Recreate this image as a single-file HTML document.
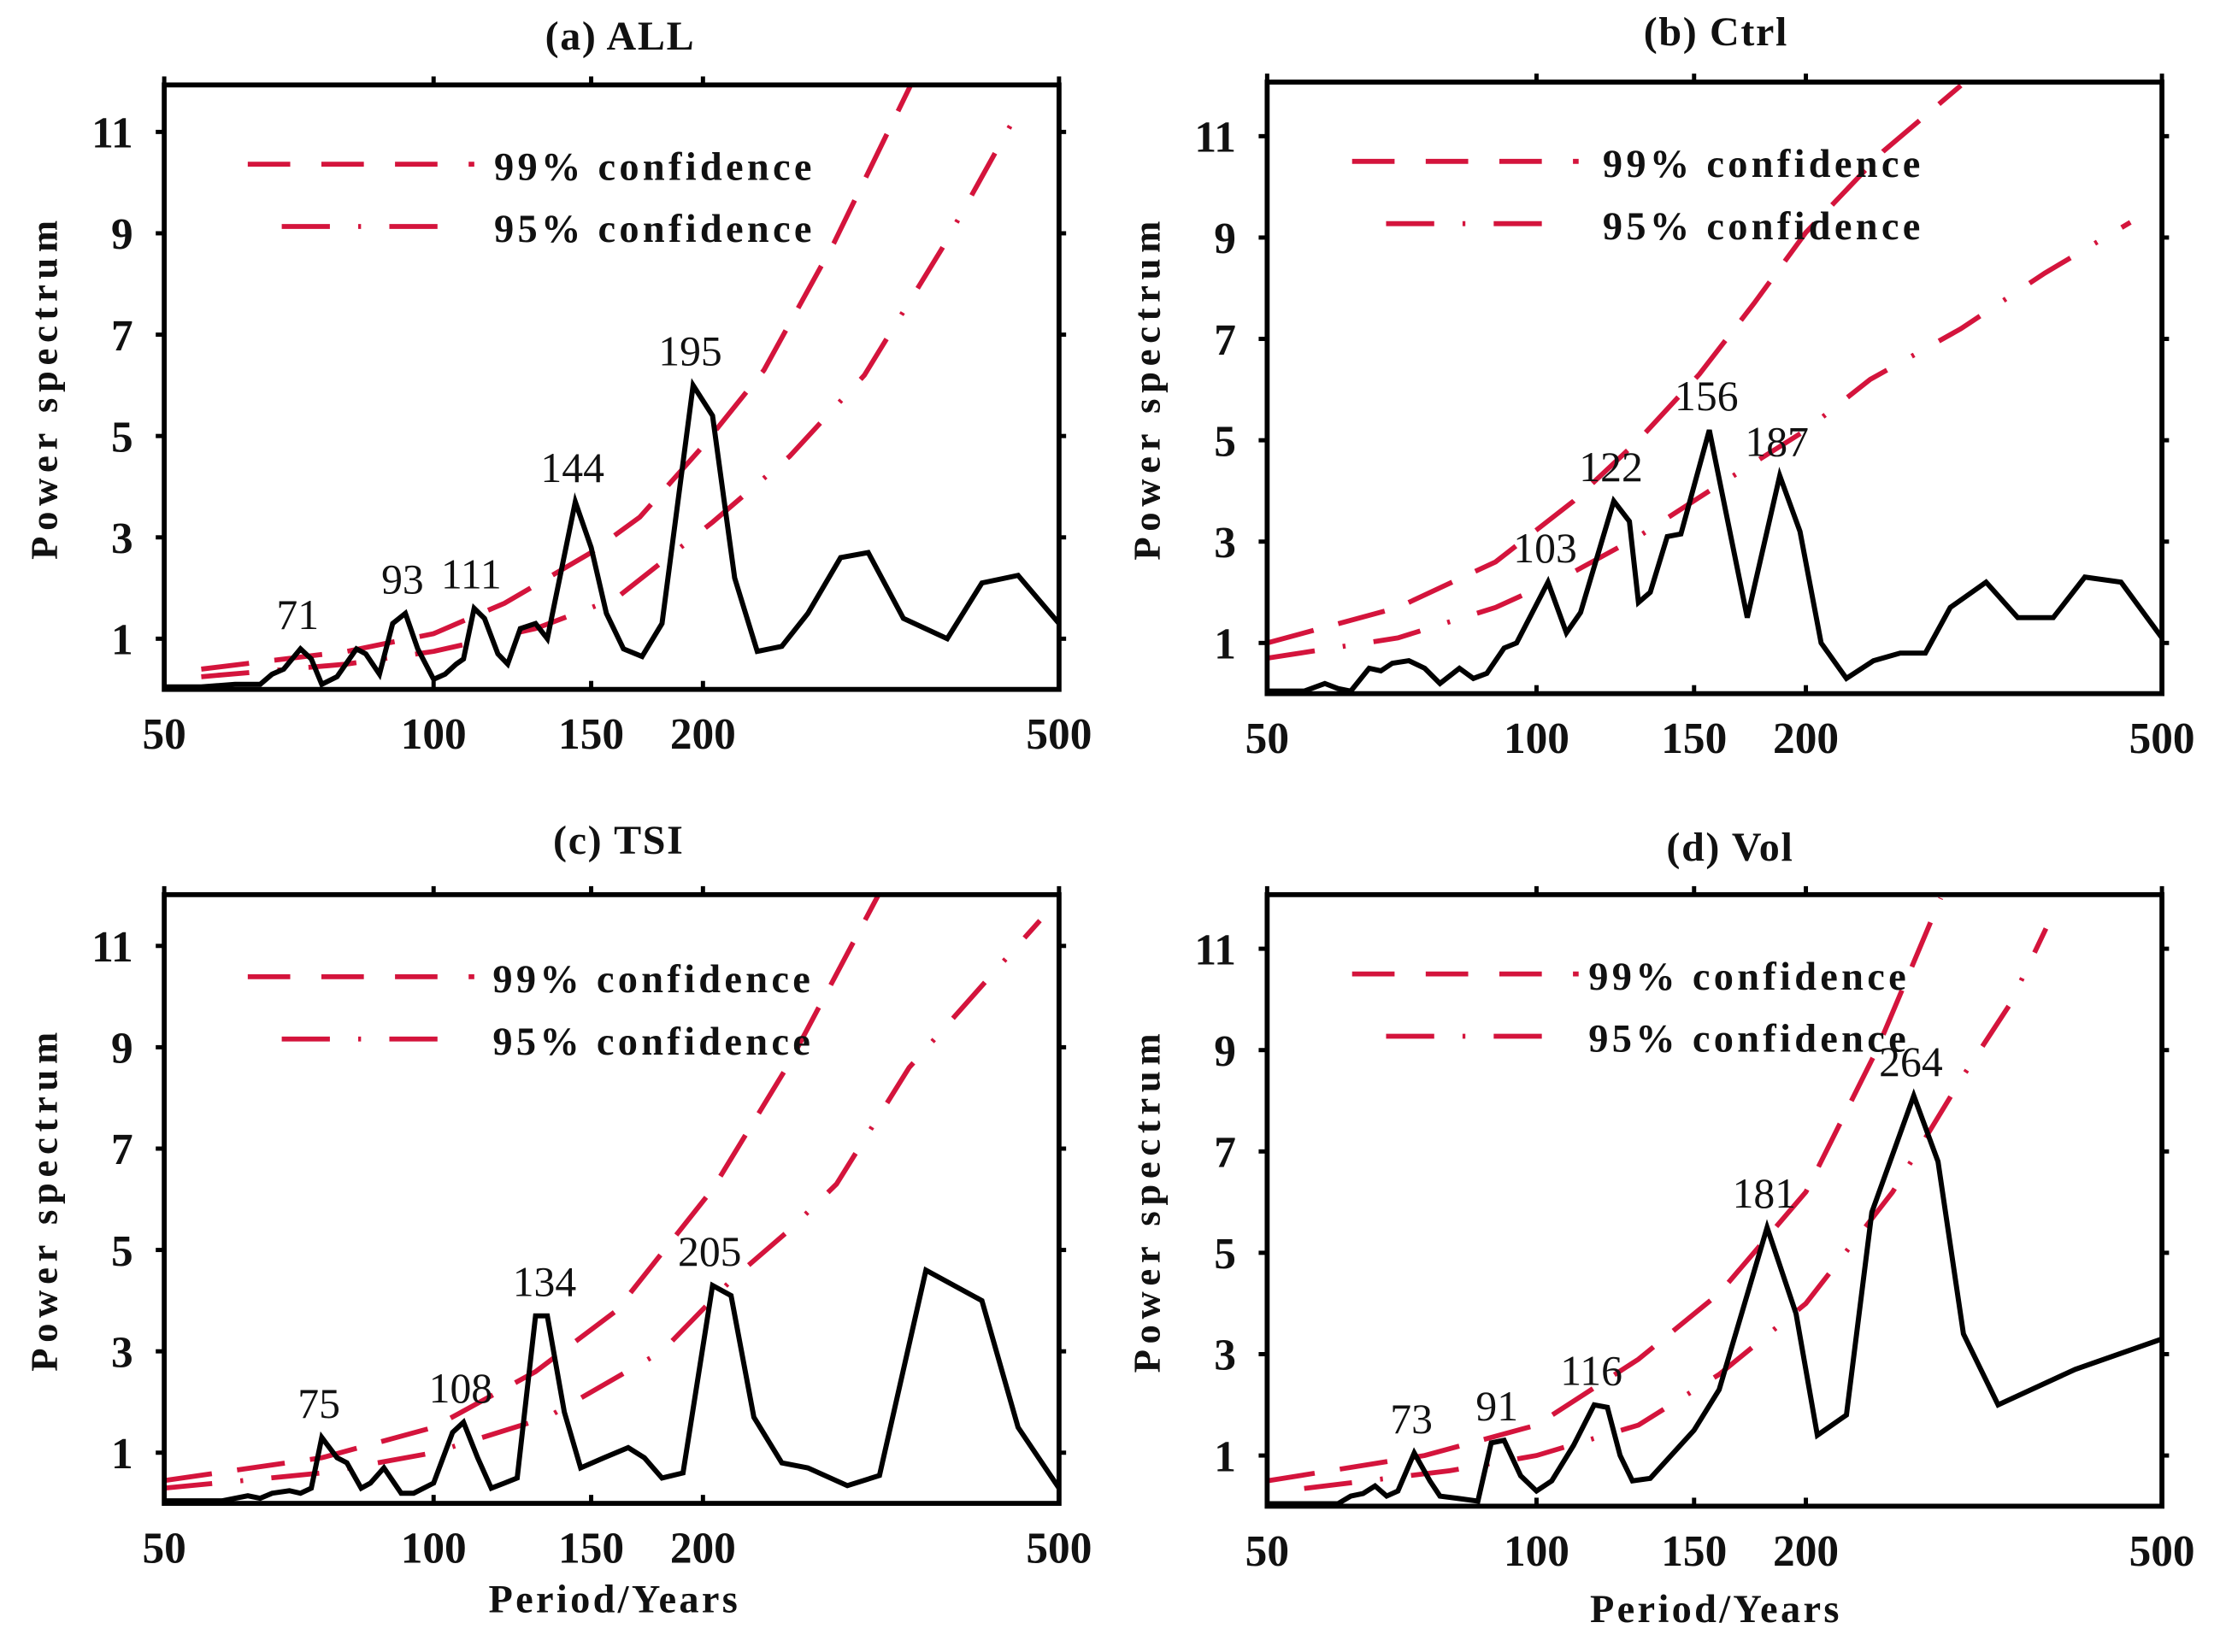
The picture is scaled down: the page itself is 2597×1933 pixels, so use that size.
<!DOCTYPE html>
<html><head><meta charset="utf-8">
<style>
html,body{margin:0;padding:0;background:#fff;}
svg{display:block;}
text{font-family:"Liberation Serif",serif;fill:#111;}
</style></head>
<body>
<svg id="fig" width="2597" height="1933" viewBox="0 0 1568 1167" preserveAspectRatio="none" xmlns="http://www.w3.org/2000/svg"></svg>
<script>
// ---- data: panel (a) ALL ----
const aPeriods=[50,55,60,64,66,68,71,73,75,78,82,84,87,90,93,96,100,103,106,108,111,114,118,121,125,130,134,144,150,156,163,171,180,195,205,217,230,245,262,285,306,335,375,410,450,500];
const aValues=[0.05,0.05,0.1,0.1,0.3,0.4,0.8,0.6,0.1,0.25,0.8,0.7,0.3,1.3,1.5,0.8,0.2,0.3,0.5,0.6,1.6,1.4,0.7,0.5,1.2,1.3,1.0,3.7,2.8,1.5,0.8,0.65,1.3,6.0,5.4,2.2,0.75,0.85,1.5,2.6,2.7,1.4,1.0,2.1,2.25,1.3];
const a99P=[55,80,100,120,150,170,200,234,280,343];
const a99V=[0.4,0.75,1.1,1.7,2.7,3.4,4.8,6.3,8.8,12];
const a95P=[55,80,100,130,160,205,250,303,370,450];
const a95V=[0.25,0.5,0.75,1.2,1.8,3.3,4.6,6.2,8.7,11.4];
const aPeaks=[71,93,111,144,195];
const aPeakV=[0.8,1.5,1.6,3.7,6.0];
// ---- panel (b) Ctrl ----
const bPeriods=[50,55,58,60,62,65,67,69,72,75,78,82,85,88,92,95,103,108,112,122,127,130,134,140,145,156,172,187,197,208,222,238,255,272,290,318,345,378,410,450,500];
const bValues=[0.05,0.05,0.2,0.1,0.05,0.5,0.45,0.6,0.65,0.5,0.2,0.5,0.3,0.4,0.9,1.0,2.2,1.2,1.6,3.8,3.4,1.8,2.0,3.1,3.15,5.2,1.5,4.3,3.2,1.0,0.3,0.65,0.8,0.8,1.7,2.2,1.5,1.5,2.3,2.2,1.1];
const b99P=[50,70,90,110,130,152,175,200,244,298];
const b99V=[1.0,1.7,2.6,3.8,5.0,6.3,7.7,9.1,10.7,12];
const b95P=[50,70,90,110,130,156,200,236,298,370,461];
const b95V=[0.7,1.1,1.7,2.4,3.1,4.0,5.2,6.2,7.2,8.3,9.3];
const bPeaks=[103,122,156,187];
const bPeakV=[2.2,3.8,5.2,4.3];
// ---- panel (c) TSI ----
const cPeriods=[50,58,62,64,66,69,71,73,75,78,80,83,85,88,92,95,100,105,108,112,116,120,124,130,134,140,146,155,165,172,180,190,205,215,228,245,262,290,315,355,410,450,500];
const cValues=[0.05,0.05,0.15,0.1,0.2,0.25,0.2,0.3,1.3,0.9,0.8,0.3,0.4,0.7,0.2,0.2,0.4,1.4,1.6,0.9,0.3,0.4,0.5,3.7,3.7,1.8,0.7,0.9,1.1,0.9,0.5,0.6,4.3,4.1,1.7,0.8,0.7,0.35,0.55,4.6,4.0,1.5,0.3];
const c99P=[50,75,100,130,160,205,250,314];
const c99V=[0.45,0.9,1.5,2.6,3.8,6.2,8.7,12];
const c95P=[50,75,100,134,180,215,250,282,340,476];
const c95V=[0.3,0.6,1.0,1.7,3.0,4.4,5.4,6.3,8.6,11.5];
const cPeaks=[75,108,134,205];
const cPeakV=[1.3,1.6,3.7,4.3];
// ---- panel (d) Vol ----
const dPeriods=[50,60,62,64,66,68,70,73,76,78,82,86,89,92,96,100,104,110,116,120,124,128,134,150,160,181,195,206,222,237,264,281,300,328,400,500];
const dValues=[0.05,0.05,0.2,0.25,0.4,0.2,0.3,1.05,0.5,0.2,0.15,0.1,1.25,1.3,0.6,0.3,0.5,1.2,2.0,1.95,1.0,0.5,0.55,1.5,2.3,5.5,3.8,1.4,1.8,5.8,8.1,6.8,3.4,2.0,2.7,3.3];
const d99P=[50,75,100,130,160,200,240,283];
const d99V=[0.5,1.0,1.6,2.9,4.2,6.2,9.0,12];
const d95P=[55,80,100,130,160,200,250,300,338,371];
const d95V=[0.35,0.7,1.0,1.6,2.6,4.0,6.2,8.5,9.9,11.4];
const dPeaks=[73,91,116,181,264];
const dPeakV=[1.05,1.3,2.0,5.5,8.1];
// ---- axes ----
const xTicks=[50,100,150,200,500];
const yTicks=[1,3,5,7,9,11];

const NS="http://www.w3.org/2000/svg";
const fig=document.getElementById('fig');
function mk(tag,attrs,parent){const e=document.createElementNS(NS,tag);for(const k in attrs)e.setAttribute(k,attrs[k]);(parent||fig).appendChild(e);return e;}

const panels=[
 {id:'a',title:'(a) ALL',tx:438,ty:35,x0:116,x1:748,top:60,y0:487,P:aPeriods,V:aValues,p99:a99P,v99:a99V,p95:a95P,v95:a95V,pk:aPeaks,pv:aPeakV,xl:false,lx:175,ly:116,ltx:349},
 {id:'b',title:'(b) Ctrl',tx:1212,ty:32,x0:895,x1:1527,top:58,y0:490,P:bPeriods,V:bValues,p99:b99P,v99:b99V,p95:b95P,v95:b95V,pk:bPeaks,pv:bPeakV,xl:false,lx:955,ly:114,ltx:1132},
 {id:'c',title:'(c) TSI',tx:437,ty:603,x0:116,x1:748,top:632,y0:1062,P:cPeriods,V:cValues,p99:c99P,v99:c99V,p95:c95P,v95:c95V,pk:cPeaks,pv:cPeakV,xl:true,xlx:434,xly:1139,lx:175,ly:690,ltx:348},
 {id:'d',title:'(d) Vol',tx:1222,ty:608,x0:895,x1:1527,top:632,y0:1064,P:dPeriods,V:dValues,p99:d99P,v99:d99V,p95:d95P,v95:d95V,pk:dPeaks,pv:dPeakV,xl:true,xlx:1212,xly:1146,lx:955,ly:688,ltx:1122}
];
const RED='#d4143c';
panels.forEach(p=>{
  const g=mk('g',{});
  
  
  const unit=35.8;
  const X=v=>p.x0+(p.x1-p.x0)*Math.log10(v/50);
  const Y=v=>p.y0-v*unit;
  const clip=mk('clipPath',{id:'clip'+p.id},g);
  mk('rect',{x:p.x0,y:p.top,width:p.x1-p.x0,height:p.y0-p.top},clip);
  const t=mk('text',{x:p.tx,y:p.ty,'text-anchor':'middle','font-size':29,'font-weight':'bold','letter-spacing':1},g);
  t.textContent=p.title;
  
  
  const yl=mk('text',{x:0,y:0,'text-anchor':'middle','font-size':27,'font-weight':'bold','letter-spacing':4,transform:`translate(${p.x0-76},${(p.top+p.y0)/2}) rotate(-90)`},g);
  yl.textContent='Power spectrum';
  
  
  if(p.xl){
    const xl=mk('text',{x:p.xlx,y:p.xly,'text-anchor':'middle','font-size':28,'font-weight':'bold','letter-spacing':2},g);
    xl.textContent='Period/Years';
    
    
  }
  const c99=mk('polyline',{points:p.p99.map((v,i)=>X(v)+','+Y(p.v99[i])).join(' '),fill:'none',stroke:RED,'stroke-width':3.5,'stroke-dasharray':'34 18','clip-path':`url(#clip${p.id})`},g);
  
  
  const c95=mk('polyline',{points:p.p95.map((v,i)=>X(v)+','+Y(p.v95[i])).join(' '),fill:'none',stroke:RED,'stroke-width':3.5,'stroke-dasharray':'34 20 2 20','clip-path':`url(#clip${p.id})`},g);
  
  
  const sp=mk('polyline',{points:p.P.map((v,i)=>X(v)+','+Y(p.V[i])).join(' '),fill:'none',stroke:'#000','stroke-width':3.6,'stroke-linejoin':'miter','clip-path':`url(#clip${p.id})`},g);
  
  
  p.pk.forEach((v,i)=>{
    const lt=mk('text',{x:X(v)-2,y:Y(p.pv[i])-14,'text-anchor':'middle','font-size':30},g);
    lt.textContent=String(v);
    
    
  });
  const lg=mk('g',{},g);
  
  
  mk('line',{x1:p.lx,y1:p.ly,x2:p.lx+160,y2:p.ly,stroke:RED,'stroke-width':3.5,'stroke-dasharray':'30 22'},lg);
  mk('line',{x1:p.lx+24,y1:p.ly+44,x2:p.lx+145,y2:p.ly+44,stroke:RED,'stroke-width':3.5,'stroke-dasharray':'34 20 2 20'},lg);
  const l1=mk('text',{x:p.ltx,y:p.ly+11,'font-size':28,'font-weight':'bold','letter-spacing':2.6},lg);
  l1.textContent='99% confidence';
  const l2=mk('text',{x:p.ltx,y:p.ly+55,'font-size':28,'font-weight':'bold','letter-spacing':2.6},lg);
  l2.textContent='95% confidence';
  const fr=mk('rect',{x:p.x0,y:p.top,width:p.x1-p.x0,height:p.y0-p.top,fill:'none',stroke:'#000','stroke-width':3.5},g);
  
  
  xTicks.forEach(v=>{
    const x=X(v);
    mk('line',{x1:x,y1:p.y0,x2:x,y2:p.y0-6,stroke:'#000','stroke-width':3},g);
    mk('line',{x1:x,y1:p.top,x2:x,y2:p.top-6,stroke:'#000','stroke-width':3},g);
    const tl=mk('text',{x:x,y:p.y0+42,'text-anchor':'middle','font-size':31,'font-weight':'bold'},g);
    tl.textContent=String(v);
    
    
  });
  yTicks.forEach(v=>{
    const y=Y(v);
    mk('line',{x1:p.x0,y1:y,x2:p.x0-6,y2:y,stroke:'#000','stroke-width':3},g);
    mk('line',{x1:p.x1,y1:y,x2:p.x1+5,y2:y,stroke:'#000','stroke-width':3},g);
    const tl=mk('text',{x:p.x0-22,y:y+11,'text-anchor':'end','font-size':31,'font-weight':'bold'},g);
    tl.textContent=String(v);
    
    
  });
});
</script>
</body></html>
